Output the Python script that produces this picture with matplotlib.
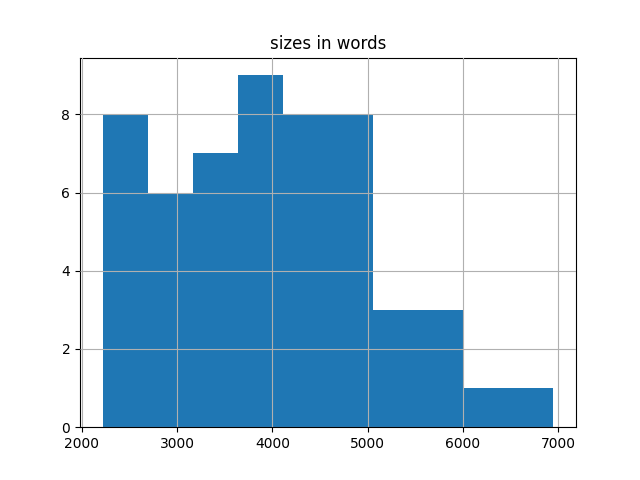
import numpy as np
import matplotlib
matplotlib.use("Agg")
import matplotlib.pyplot as plt

# histogram of document sizes (words), 10 bins
bin_edges = [2216, 2690, 3163, 3637, 4110, 4584, 5058, 5531, 6005, 6478, 6952]
counts = [8, 6, 7, 9, 8, 8, 3, 3, 1, 1]

fig, ax = plt.subplots(figsize=(6.4, 4.8), dpi=100)
ax.hist(bin_edges[:-1], bins=bin_edges, weights=counts, color="#1f77b4")
ax.grid(True)
ax.set_axisbelow(False)
ax.set_title("sizes in words")

fig.savefig("out.png")
